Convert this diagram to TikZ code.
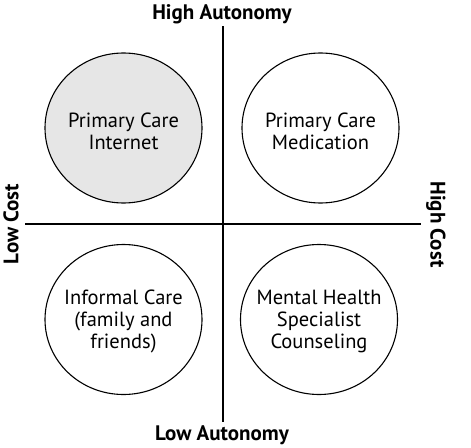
\documentclass[tikz,border=0pt]{standalone}
\usepackage{fontspec}
\setmainfont{PT Sans}
\usetikzlibrary{shapes.geometric}
\definecolor{lightgrey}{HTML}{E6E6E6}
\begin{document}
\begin{tikzpicture}[x=1pt,y=-1pt,
  axis/.style={line width=1.3pt},
  bubble/.style={draw, line width=1.1pt, ellipse, minimum width=157pt, minimum height=150pt, inner sep=0pt},
  bubbletext/.style={align=center, font=\fontsize{20.5}{22}\selectfont, inner sep=0pt},
  axlabel/.style={font=\bfseries\fontsize{21}{22}\selectfont, inner sep=0pt}]
\useasboundingbox (0,0) rectangle (471,447);
\coordinate (vt) at (223,26);
\coordinate (vb) at (223,422);
\coordinate (hl) at (25,224);
\coordinate (hr) at (421,224);
\draw[axis] (vt) -- (vb);
\draw[axis] (hl) -- (hr);
\node[bubble, fill=lightgrey] (pci) at (123.5,128) {};
\node[bubble] (pcm) at (320.5,128) {};
\node[bubble] (ic) at (123.5,319.5) {};
\node[bubble] (mh) at (319,319.5) {};
\node[bubbletext] (tpci) at ([yshift=-3pt]pci.center) {Primary Care\\Internet};
\node[bubbletext] (tpcm) at ([yshift=-3pt]pcm.center) {Primary Care\\Medication};
\node[bubbletext] (tic) at ([yshift=-2pt]ic.center) {Informal Care\\(family and\\friends)};
\node[bubbletext] (tmh) at ([yshift=-2pt]mh.center) {Mental Health\\Specialist\\Counseling};
\node[axlabel] (ha) at (222,14) {High Autonomy};
\node[axlabel] (la) at (222,435) {Low Autonomy};
\node[axlabel, rotate=90] (lc) at (11,224) {Low Cost};
\node[axlabel, rotate=-90] (hc) at (436,224.5) {High Cost};
\end{tikzpicture}
\end{document}
